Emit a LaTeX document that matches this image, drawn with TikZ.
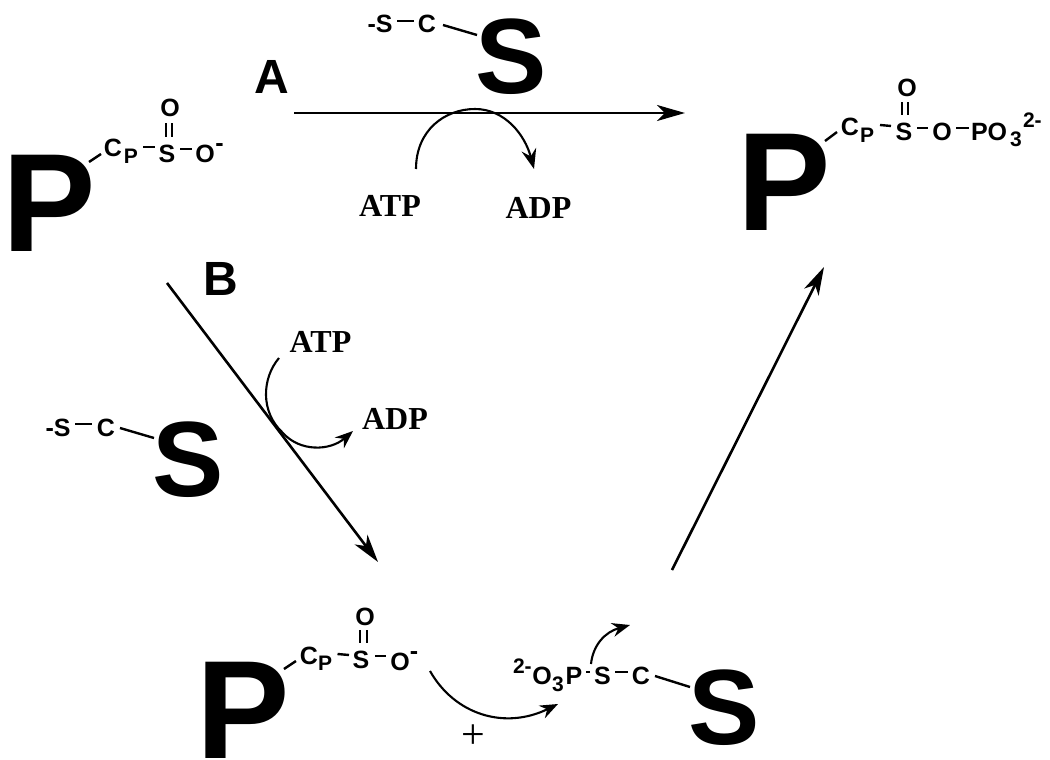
\documentclass[tikz,border=0pt]{standalone}
\usepackage{fontspec}
\setmainfont{Liberation Sans}
\newfontfamily\serifbold{Liberation Serif}
\usetikzlibrary{arrows.meta}
\tikzset{
  lab/.style={inner sep=0pt,outer sep=0pt,anchor=base},
  atom/.style={lab,font=\fontsize{25}{25}\selectfont\bfseries},
  sub/.style={lab,font=\fontsize{21}{21}\selectfont\bfseries},
  bigP/.style={inner sep=0pt,outer sep=0pt,anchor=base west,font=\fontsize{140}{140}\selectfont\bfseries},
  bigS/.style={lab,font=\fontsize{107}{107}\selectfont\bfseries},
  path letter/.style={lab,font=\fontsize{48}{48}\selectfont\bfseries},
  nucl/.style={lab,font=\fontsize{32}{32}\selectfont\serifbold\bfseries},
  bondline/.style={line width=2.4pt},
  mainarrow/.style={line width=2.6pt,-{Stealth[length=28pt,width=16pt,inset=8pt]}},
  curvearrow/.style={line width=2.1pt,-{Stealth[length=20pt,width=15pt,inset=7pt]}},
}
\newcommand{\bond}[3]{\coordinate (#1a) at (#2); \coordinate (#1b) at (#3); \draw[bondline] (#1a) -- (#1b);}
\begin{document}
\begin{tikzpicture}[x=1pt,y=-1pt]
\useasboundingbox (0,0) rectangle (1050,760);

% top-left phosphoprotein
\node[bigP] (p1) at (2,251) {P};
\node[atom] (p1c) at (113,156) {C};
\node[sub] (p1cp) at (131,163) {P};
\node[atom] (p1s) at (167,162) {S};
\node[atom] (p1o) at (170,117) {O};
\node[atom] (p1om) at (205,162) {O};
\node[atom] (p1m) at (219.5,151) {-};
\bond{a1}{89,162}{101,154}
\bond{a2}{143,147}{155,147}
\bond{a3}{180,149}{192,149}
\bond{a4}{166,123}{166,137}
\bond{a5}{172,123}{172,137}

% labels
\node[path letter] (la) at (272,93) {A};
\node[path letter] (lb) at (221,295) {B};

% top substrate
\node[atom] (s1s) at (380,33) {-S};
\node[atom] (s1c) at (427,33) {C};
\node[bigS] (s1) at (511,94) {S};
\bond{b1}{397,21}{414,21}
\bond{b2}{443,25}{477,35}

% reaction A
\coordinate (ra) at (294,113);
\coordinate (rb) at (685,113);
\draw[mainarrow] (ra) -- (rb);
\coordinate (ca) at (416,169);
\coordinate (cm) at (475,109);
\coordinate (cb) at (534,169);
\draw[curvearrow] (ca) .. controls (416,130) and (445,109) .. (cm) .. controls (505,109) and (525,135) .. (cb);
\node[nucl] (atp1) at (390,216) {ATP};
\node[nucl] (adp1) at (538.5,218) {ADP};

% right product
\node[bigP] (p2) at (737,230) {P};
\node[atom] (p2c) at (850,135) {C};
\node[sub] (p2cp) at (867,142) {P};
\node[atom] (p2s) at (904,140) {S};
\node[atom] (p2o) at (907,96) {O};
\node[atom] (p2om) at (942,140) {O};
\node[atom,anchor=base west] (p2po) at (971,140) {PO};
\node[sub] (p2three) at (1016,146) {3};
\node[sub,anchor=base west] (p2chg) at (1023,128) {2-};
\bond{c1}{825,141}{837,132}
\bond{c2}{880,125}{891,126}
\bond{c3}{917,128}{928,128}
\bond{c4}{956,128}{969,128}
\bond{c5}{902,102}{902,115}
\bond{c6}{908,102}{908,115}

% reaction B
\coordinate (rc) at (167,283);
\coordinate (rd) at (378,562);
\draw[mainarrow] (rc) -- (rd);
\coordinate (da) at (279,358);
\coordinate (dm) at (283,433);
\coordinate (db) at (353,431);
\draw[curvearrow,-{Stealth[length=18pt,width=14pt,inset=6pt]}] (da) .. controls (262,378) and (260,412) .. (dm) .. controls (300,452) and (330,451) .. (db);
\node[nucl] (atp2) at (320.5,352) {ATP};
\node[nucl] (adp2) at (395,429) {ADP};

% left substrate
\node[atom] (s2s) at (58,436) {-S};
\node[atom] (s2c) at (106,436) {C};
\node[bigS] (s2) at (188,496) {S};
\bond{d1}{75,424}{92,424}
\bond{d2}{120,428}{154,438}

% bottom phosphoprotein
\node[bigP] (p3) at (196,758) {P};
\node[atom] (p3c) at (309,664) {C};
\node[sub] (p3cp) at (325,670) {P};
\node[atom] (p3s) at (361,668) {S};
\node[atom] (p3o) at (365,625) {O};
\node[atom] (p3om) at (400,670) {O};
\node[atom] (p3m) at (414,659) {-};
\bond{e1}{284,669}{296,661}
\bond{e2}{337.5,654}{349,655}
\bond{e3}{375,656}{386,656}
\bond{e4}{360,630}{360,643}
\bond{e5}{367,630}{367,643}

% bottom curve and plus
\coordinate (fa) at (430,671);
\coordinate (fb) at (558,704);
\draw[curvearrow,-{Stealth[length=18pt,width=14pt,inset=6pt]}] (fa) .. controls (455,715) and (505,730) .. (fb);
\node[inner sep=0pt,font=\fontsize{42}{42}\selectfont\serifbold] (plus) at (473,737) {+};

% phosphorylated substrate
\node[sub,anchor=base west] (s3chg) at (513,673) {2-};
\node[atom] (s3o) at (542,684) {O};
\node[sub] (s3three) at (558,691) {3};
\node[atom] (s3p) at (574,684) {P};
\node[atom] (s3s) at (602.5,684) {S};
\node[atom] (s3c) at (641,684) {C};
\node[bigS] (s3) at (724,744) {S};
\bond{g1}{586,672}{590,672}
\bond{g2}{615,672}{627.5,672}
\bond{g3}{655,676}{690,687}
\coordinate (ha) at (591,664);
\coordinate (hb) at (630,625);
\draw[curvearrow,-{Stealth[length=18pt,width=14pt,inset=6pt]}] (ha) .. controls (593,645) and (605,632) .. (hb);

% final arrow
\coordinate (ia) at (672,570);
\coordinate (ib) at (824,267);
\draw[mainarrow] (ia) -- (ib);
\end{tikzpicture}
\end{document}
